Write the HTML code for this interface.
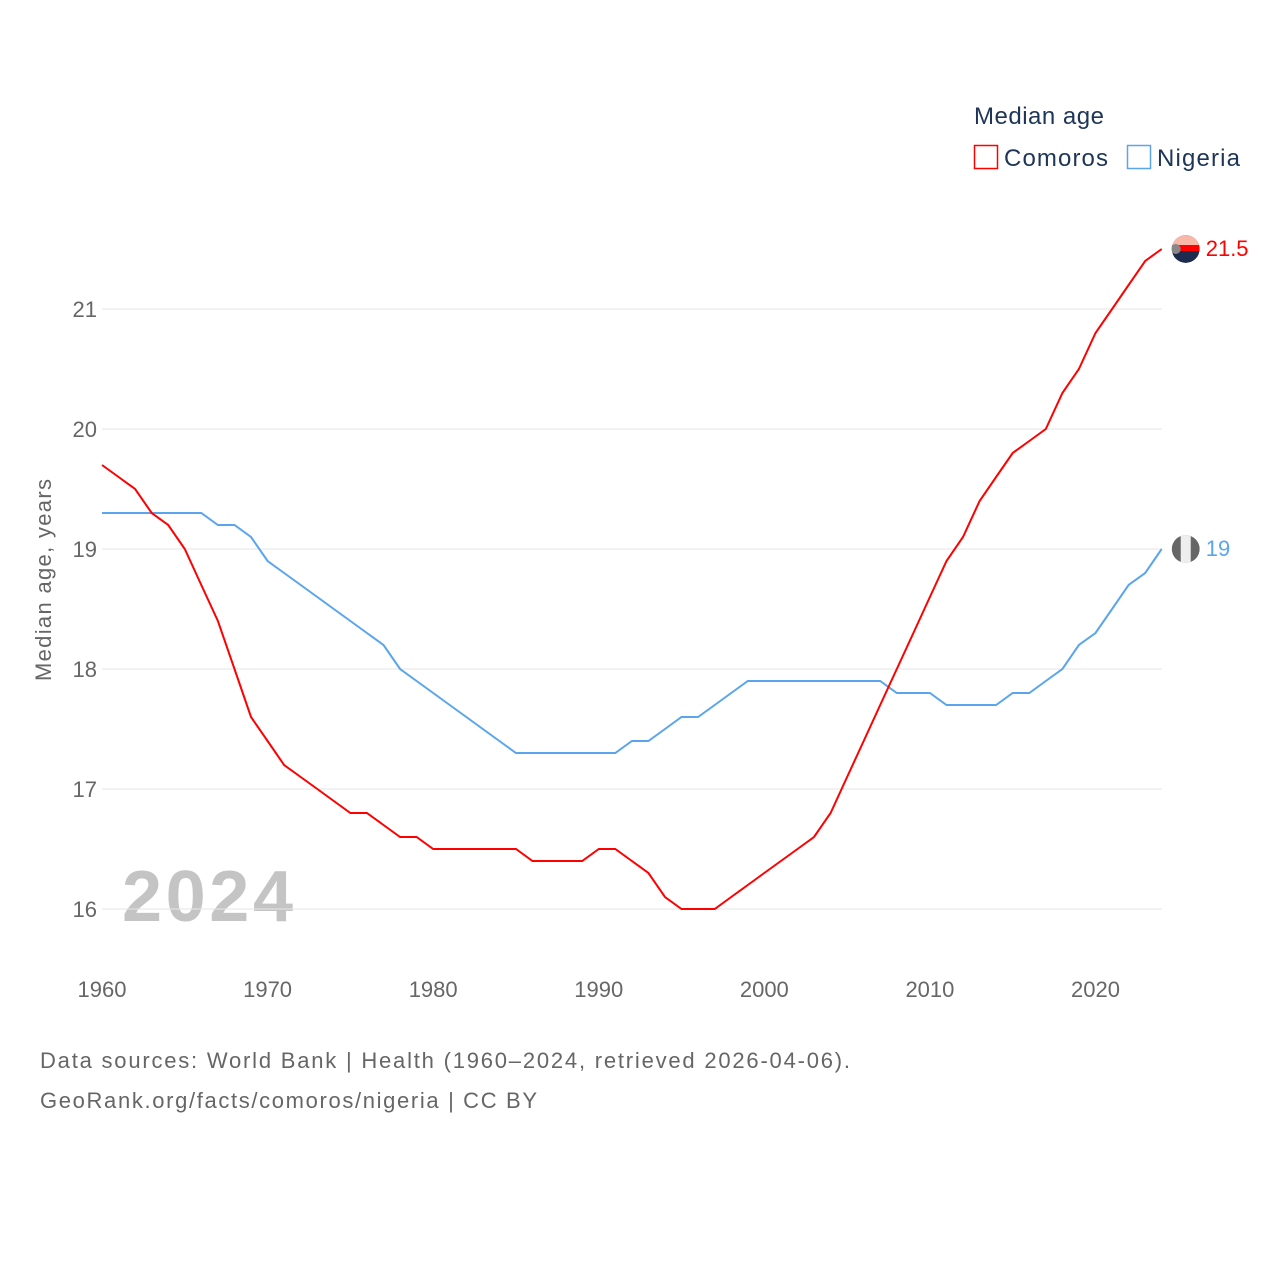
<!DOCTYPE html>
<html><head><meta charset="utf-8"><style>
body{margin:0;background:#fff;font-family:"Liberation Sans",sans-serif}
svg text{font-family:"Liberation Sans",sans-serif}
</style></head><body>
<svg width="1280" height="1280" id="chart">
<defs><clipPath id="c1"><circle cx="1185.7" cy="249" r="14"/></clipPath><clipPath id="c2"><circle cx="1185.7" cy="549" r="14"/></clipPath></defs>
<text x="974" y="124" font-size="24" fill="#1d3557" textLength="130">Median age</text>
<g><rect x="974.5" y="145.5" width="23" height="23" fill="none" stroke="#ff0000" stroke-width="1.5"/><text x="1004" y="166" font-size="24" fill="#1d3557" textLength="104">Comoros</text></g>
<g><rect x="1127.5" y="145.5" width="23" height="23" fill="none" stroke="#5aa5ec" stroke-width="1.5"/><text x="1157" y="166" font-size="24" fill="#1d3557" textLength="83">Nigeria</text></g>
<text transform="translate(51,580) rotate(-90)" text-anchor="middle" font-size="22" fill="#666" textLength="202">Median age, years</text>
<text x="122" y="921" font-size="72" font-weight="bold" fill="#c4c4c4" textLength="171">2024</text>
<g id="grid"></g><g id="yt"></g><g id="xt"></g><g id="lines"></g>
<text x="40" y="1068" font-size="22" fill="#666" textLength="810">Data sources: World Bank | Health (1960–2024, retrieved 2026-04-06).</text>
<text x="40" y="1108" font-size="22" fill="#666" textLength="497">GeoRank.org/facts/comoros/nigeria | CC BY</text>
</svg>
<script>
const years=[];for(let y=1960;y<=2024;y++)years.push(y);
const comoros=[19.7,19.6,19.5,19.3,19.2,19.0,18.7,18.4,18.0,17.6,17.4,17.2,17.1,17.0,16.9,16.8,16.8,16.7,16.6,16.6,16.5,16.5,16.5,16.5,16.5,16.5,16.4,16.4,16.4,16.4,16.5,16.5,16.4,16.3,16.1,16.0,16.0,16.0,16.1,16.2,16.3,16.4,16.5,16.6,16.8,17.1,17.4,17.7,18.0,18.3,18.6,18.9,19.1,19.4,19.6,19.8,19.9,20.0,20.3,20.5,20.8,21.0,21.2,21.4,21.5];
const nigeria=[19.3,19.3,19.3,19.3,19.3,19.3,19.3,19.2,19.2,19.1,18.9,18.8,18.7,18.6,18.5,18.4,18.3,18.2,18.0,17.9,17.8,17.7,17.6,17.5,17.4,17.3,17.3,17.3,17.3,17.3,17.3,17.3,17.4,17.4,17.5,17.6,17.6,17.7,17.8,17.9,17.9,17.9,17.9,17.9,17.9,17.9,17.9,17.9,17.8,17.8,17.8,17.7,17.7,17.7,17.7,17.8,17.8,17.9,18.0,18.2,18.3,18.5,18.7,18.8,19.0];
const yTicks=[16,17,18,19,20,21];
const xTicks=[1960,1970,1980,1990,2000,2010,2020];
const X=v=>102+(v-1960)*(993.5/60);
const Y=v=>909-(v-16)*120;
const NS="http://www.w3.org/2000/svg";
function mk(t,a,p){const e=document.createElementNS(NS,t);for(const k in a)e.setAttribute(k,a[k]);p.appendChild(e);return e;}
const g=document.getElementById('grid'),yt=document.getElementById('yt'),xt=document.getElementById('xt'),L=document.getElementById('lines');
yTicks.forEach(v=>{
 const l=mk('line',{x1:102,x2:1162,y1:Y(v),y2:Y(v),stroke:'#e6e6e6','stroke-width':1},g);
 
 
 const t=mk('text',{x:97,y:Y(v)+8,'text-anchor':'end','font-size':22,fill:'#666'},yt);t.textContent=v;
 
 
});
xTicks.forEach(v=>{
 const t=mk('text',{x:X(v),y:997,'text-anchor':'middle','font-size':22,fill:'#666'},xt);t.textContent=v;
 
 
});
function series(d,c,name,flag,clip){
 const p=mk('path',{d:d.map((v,i)=>(i?'L':'M')+X(years[i]).toFixed(1)+','+Y(v).toFixed(1)).join(''),fill:'none',stroke:c,'stroke-width':2},L);
 
 
 const last=d[d.length-1],cx=X(2024)+24,cy=Y(last);
 const f=mk('g',{'clip-path':'url(#'+clip+')'},L);
 
 
 if(flag){mk('circle',{cx,cy,r:14,fill:'#1d2b4f'},f);mk('rect',{x:cx-14,y:cy-14,width:28,height:10,fill:'#f7b8a8'},f);mk('rect',{x:cx-14,y:cy-4,width:28,height:6,fill:'#ff0000'},f);mk('circle',{cx:cx-10,cy,r:5,fill:'#888'},f);}
 else{mk('circle',{cx,cy,r:14,fill:'#666'},f);mk('rect',{x:cx-5,y:cy-14,width:10,height:28,fill:'#eee'},f);}
 const t=mk('text',{x:cx+20,y:cy+7,'font-size':22,fill:c},L);t.textContent=last;
 
 
}
series(nigeria,'#5aa5ec','nigeria',false,'c2');
series(comoros,'#ff0000','comoros',true,'c1');
</script>
</body></html>
